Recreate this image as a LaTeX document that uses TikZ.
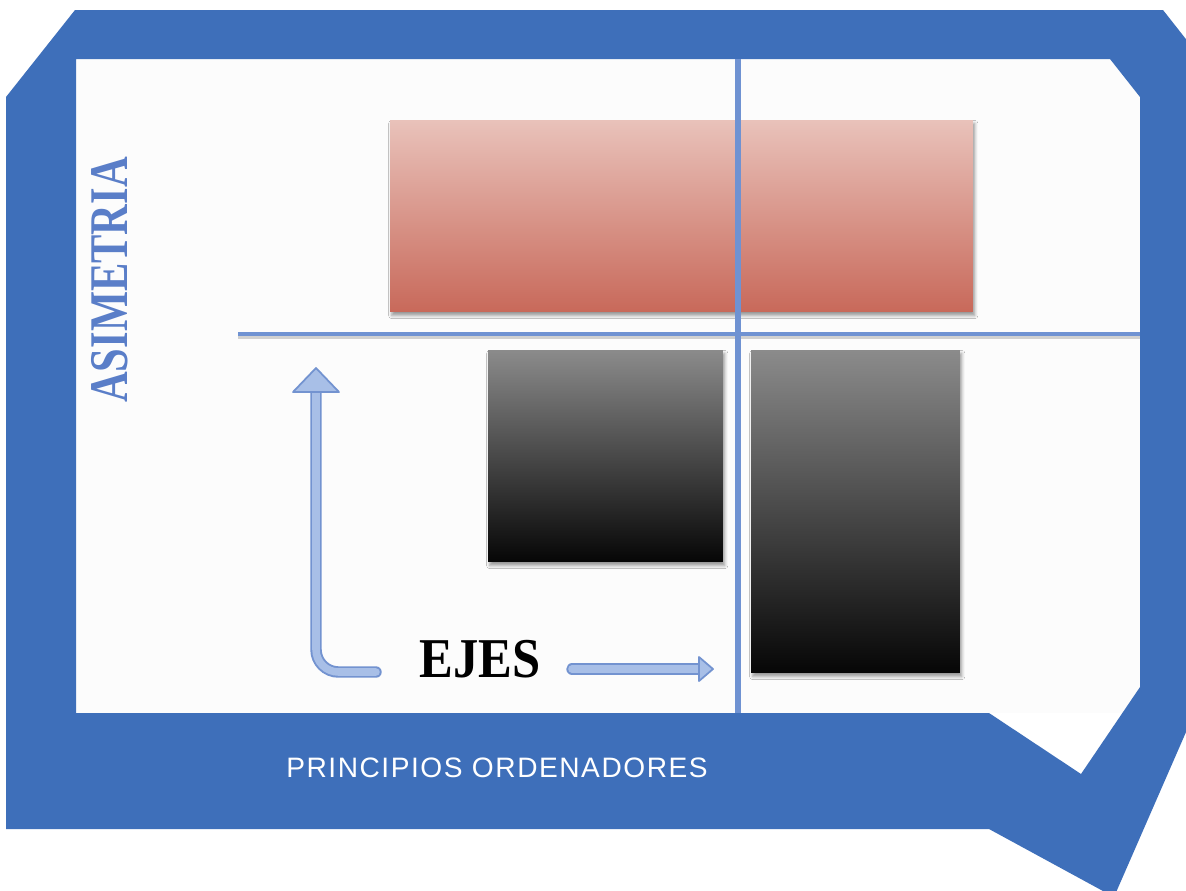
\documentclass[tikz,border=0pt]{standalone}
\usepackage{fontspec}
\setmainfont{Liberation Serif}
\newfontfamily\labelfont[LetterSpace=5.5]{Liberation Sans}
\usetikzlibrary{positioning,shadows.blur}

\definecolor{frame}{HTML}{3E6FBA}
\definecolor{axis}{HTML}{6F92D2}
\definecolor{arrfill}{HTML}{A8BFE7}
\definecolor{arrline}{HTML}{7393D0}
\definecolor{redtop}{HTML}{E9C2BA}
\definecolor{redbot}{HTML}{C8695A}
\definecolor{darktop}{HTML}{8B8B8B}
\definecolor{darkbot}{HTML}{060606}
\definecolor{asim}{HTML}{5A7EC8}

\begin{document}
\begin{tikzpicture}[x=0.02cm, y=-0.02cm,
		box/.style={rectangle, inner sep=0pt,
			blur shadow={shadow xshift=1pt, shadow yshift=-2pt, shadow blur radius=1.8pt, shadow opacity=40}},
		redbox/.style={box, top color=redtop, bottom color=redbot},
		darkbox/.style={box, top color=darktop, bottom color=darkbot},
		axisline/.style={draw=axis, line width=2.8pt,
			preaction={draw=gray!70, opacity=.5, line width=2.8pt, transform canvas={yshift=-1.5pt}}},
		arrout/.style={draw=arrline, line width=6.5pt, line cap=round},
		arrin/.style={draw=arrfill, line width=4.3pt, line cap=round},
		arrhead/.style={fill=arrfill, draw=arrline, line width=1pt, line join=round}]
		\useasboundingbox (0,0) rectangle (1186,890);
		\clip (0,0) rectangle (1186,890);
		\fill[white] (0,0) rectangle (1186,890);
		\fill[black!1] (76,59) rectangle (1140,713);

		% frame
		\fill[frame, even odd rule]
			(75,10) -- (1163,10) -- (1200,57) -- (1200,700) -- (1114,897)
				-- (989,829) -- (6,829) -- (6,97) -- cycle
			(76,59) -- (1110,59) -- (1140,97) -- (1140,687) -- (1081,774)
				-- (989,713) -- (76,713) -- cycle;

		% boxes
		\draw
			(681.5,216) node [redbox, minimum width=11.66cm, minimum height=3.84cm] (red) {}
			(605.5,456) node [darkbox, minimum width=4.7cm, minimum height=4.24cm] (gl) {}
			(855.5,511.5) node [darkbox, minimum width=4.18cm, minimum height=6.46cm] (gr) {}
			;

		% axes
		\coordinate (hl) at (238,334);
		\coordinate (hr) at (1140,334);
		\coordinate (vt) at (738,59);
		\coordinate (vb) at (738,713);
		\path[axisline] (hl) -- (hr);
		\draw[axis, line width=3pt] (vt) -- (vb);

		% labels
		\draw
			(110,280) node [rotate=90, text=asim] (asimetria)
				{\scalebox{0.78}[1]{\fontsize{31}{31}\selectfont\bfseries ASIMETRIA}}
			(480,659) node (ejes)
				{\scalebox{0.9}[1]{\fontsize{32}{32}\selectfont\bfseries EJES}}
			(497,768) node [text=white] (principios)
				{\labelfont\fontsize{16}{16}\selectfont PRINCIPIOS ORDENADORES}
			;

		% arrows
		\coordinate (ltip) at (316,368);
		\coordinate (lbase) at (316,392);
		\coordinate (lend) at (376,672);
		\coordinate (rstart) at (572,669);
		\coordinate (rbase) at (699,669);
		\coordinate (rtip) at (713,669);
		\draw[arrout, rounded corners=0.45cm] (lbase) -- (lbase |- lend) -- (lend);
		\draw[arrin, rounded corners=0.45cm] (lbase) -- (lbase |- lend) -- (lend);
		\draw[arrhead] ([xshift=-0.46cm]lbase) -- (ltip) -- ([xshift=0.46cm]lbase) -- cycle;
		\draw[arrout] (rstart) -- (rbase);
		\draw[arrin] (rstart) -- (rbase);
		\draw[arrhead] ([yshift=0.24cm]rbase) -- (rtip) -- ([yshift=-0.24cm]rbase) -- cycle;
	\end{tikzpicture}
\end{document}
